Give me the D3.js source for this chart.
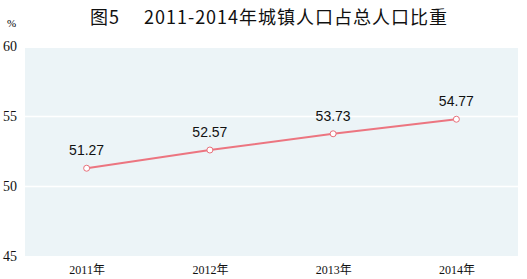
<!DOCTYPE html>
<html>
<head>
<meta charset="utf-8">
<script src="https://cdn.jsdelivr.net/npm/d3@7"></script>
<style>
  body { margin: 0; background: #ffffff; }
  svg { display: block; }
</style>
</head>
<body>
<div id="chart"></div>
<script>
"use strict";

// chart data
const years = ["2011年", "2012年", "2013年", "2014年"];
const urbanShare = [51.27, 52.57, 53.73, 54.77];
const yTicks = [45, 50, 55, 60];

const msm = {
    width: 527,
    height: 279,
    left: 25,
    right: 518,
    top: 46,
    bottom: 256
}

const svg = d3.select("#chart")
    .append("svg")
    .attr("width", msm.width)
    .attr("height", msm.height);

// scales
const xScale = d3.scalePoint()
    .domain(years)
    .range([msm.left, msm.right])
    .padding(0.5);

const yScale = d3.scaleLinear()
    .domain([45, 60])
    .range([msm.bottom, msm.top]);

// title
svg.append("text")
    .attr("x", 269)
    .attr("y", 24)
    .attr("text-anchor", "middle")
    .style("font-family", "'Noto Sans CJK SC', sans-serif")
    .style("font-size", "18px")
    .style("font-weight", "normal")
    .style("letter-spacing", "1px")
    .style("fill", "#111")
    .text("图5\u2003 2011-2014年城镇人口占总人口比重");

// unit label
svg.append("text")
    .attr("x", 7)
    .attr("y", 27)
    .style("font-family", "'Liberation Serif', serif")
    .style("font-size", "11px")
    .text("%");

// plot background
svg.append("rect")
    .attr("x", msm.left)
    .attr("y", yScale(60) + 2)
    .attr("width", msm.right - msm.left)
    .attr("height", yScale(45) - yScale(60) - 2)
    .attr("fill", "#ecf4f7");

// white gridlines
svg.selectAll(".grid")
    .data([50, 55])
    .enter()
    .append("line")
    .attr("x1", msm.left)
    .attr("x2", msm.right)
    .attr("y1", (d) => Math.round(yScale(d)) + 0.5)
    .attr("y2", (d) => Math.round(yScale(d)) + 0.5)
    .attr("stroke", "#ffffff")
    .attr("stroke-width", 1.5);

// y axis labels (no axis line)
const yAxis = d3.axisLeft(yScale)
    .tickValues(yTicks)
    .tickSize(0)
    .tickPadding(0);
svg.append("g")
    .attr("transform", "translate(17, 0)")
    .call(yAxis)
    .call((g) => g.select(".domain").remove())
    .call((g) => g.selectAll("text")
        .style("font-family", "'Liberation Serif', serif")
        .style("font-size", "14px")
        .attr("fill", "#111"));

// x axis labels
const xAxis = d3.axisBottom(xScale).tickSize(0).tickPadding(0);
svg.append("g")
    .attr("transform", "translate(0, 265)")
    .call(xAxis)
    .call((g) => g.select(".domain").remove())
    .call((g) => g.selectAll("text")
        .style("font-family", "'Liberation Serif', 'Noto Sans CJK SC', serif")
        .style("font-size", "12px")
        .attr("fill", "#111"));

// line
const line = d3.line()
    .x((d, i) => xScale(years[i]))
    .y((d) => yScale(d));

svg.append("path")
    .datum(urbanShare)
    .attr("d", line)
    .attr("fill", "none")
    .attr("stroke", "#ec7580")
    .attr("stroke-width", 2);

// markers
svg.selectAll(".dot")
    .data(urbanShare)
    .enter()
    .append("circle")
    .attr("cx", (d, i) => xScale(years[i]))
    .attr("cy", (d) => yScale(d))
    .attr("r", 3)
    .attr("fill", "#ffffff")
    .attr("stroke", "#e8707b")
    .attr("stroke-width", 1);

// value labels
svg.selectAll(".val")
    .data(urbanShare)
    .enter()
    .append("text")
    .attr("x", (d, i) => xScale(years[i]))
    .attr("y", (d) => yScale(d) - 13)
    .attr("text-anchor", "middle")
    .style("font-family", "'Liberation Sans', Arial, sans-serif")
    .style("font-size", "14px")
    .style("fill", "#111")
    .text((d) => d.toFixed(2));
</script>
</body>
</html>
